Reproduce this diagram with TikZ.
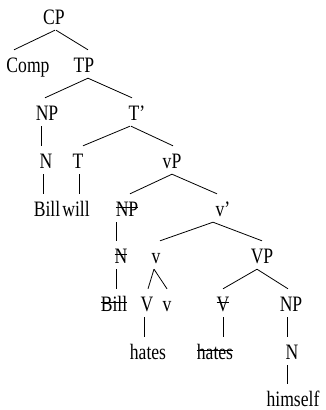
\documentclass[tikz,border=0pt]{standalone}
\usepackage{fontspec}
\setmainfont{Liberation Serif}[FakeStretch=0.8]
\usetikzlibrary{calc}
% struck-through text (deleted copies)
\newcommand\strk[1]{\setbox0\hbox{#1}\rlap{\rule[0.36em]{\wd0}{0.7pt}}\box0}
% branch from parent to child, each end shifted horizontally
\newcommand\branch[4]{\draw[br] ($(#1.south)+(#2,2)$) -- ($(#3.north)+(#4,-7)$);}
\begin{document}
\begin{tikzpicture}[x=1pt,y=-1pt,
  lbl/.style={anchor=base,inner sep=0pt,text height=15pt,text depth=4pt,
              font=\fontsize{22}{24}\selectfont},
  br/.style={line width=0.8pt}]
\useasboundingbox (0,0) rectangle (326,410);

\node[lbl] (cp)      at (54,24)   {CP};
\node[lbl] (comp)    at (28,72)   {Comp};
\node[lbl] (tp)      at (84,72)   {TP};
\node[lbl] (np1)     at (47,120)  {NP};
\node[lbl] (tbar)    at (137,120) {T'};
\node[lbl] (n1)      at (46,168)  {N};
\node[lbl] (t)       at (78,168)  {T};
\node[lbl] (vp)      at (172,168) {vP};
\node[lbl] (bill1)   at (47,216)  {Bill};
\node[lbl] (will)    at (76,216)  {will};
\node[lbl] (np2)     at (127,216) {\strk{NP}};
\node[lbl] (vbar)    at (223,216) {v'};
\node[lbl] (n2)      at (121,263) {\strk{N}};
\node[lbl] (lv)      at (156,263) {v};
\node[lbl] (bigvp)   at (262,263) {VP};
\node[lbl] (bill2)   at (114,311) {\strk{Bill}};
\node[lbl] (V1)      at (147,311) {V};
\node[lbl] (v2)      at (167,311) {v};
\node[lbl] (V2)      at (223,311) {\strk{V}};
\node[lbl] (np3)     at (291,311) {NP};
\node[lbl] (hates1)  at (148,359) {hates};
\node[lbl] (hates2)  at (215,359) {\strk{hates}};
\node[lbl] (n3)      at (292,359) {N};
\node[lbl] (himself) at (293,406) {himself};

\branch{cp}{1}{comp}{-14}
\branch{cp}{2}{tp}{4}
\branch{tp}{4}{np1}{-2}
\branch{tp}{4}{tbar}{-5}
\branch{tbar}{-7}{t}{5}
\branch{tbar}{-6}{vp}{1}
\branch{np1}{-6}{n1}{-5}
\branch{n1}{-3}{bill1}{-4}
\branch{t}{1}{will}{3}
\branch{vp}{0}{np2}{3}
\branch{vp}{0}{vbar}{-6}
\branch{np2}{-11}{n2}{-5}
\branch{vbar}{-10}{lv}{4}
\branch{vbar}{-10}{bigvp}{0}
\branch{n2}{-5}{bill2}{2}
\branch{lv}{-2}{V1}{1}
\branch{lv}{-2}{v2}{0}
\branch{bigvp}{-5}{V2}{0}
\branch{bigvp}{-5}{np3}{-3}
\branch{V1}{-3}{hates1}{-4}
\branch{V2}{0}{hates2}{8}
\branch{np3}{-4}{n3}{-5}
\branch{n3}{-5}{himself}{-6}
\end{tikzpicture}
\end{document}
